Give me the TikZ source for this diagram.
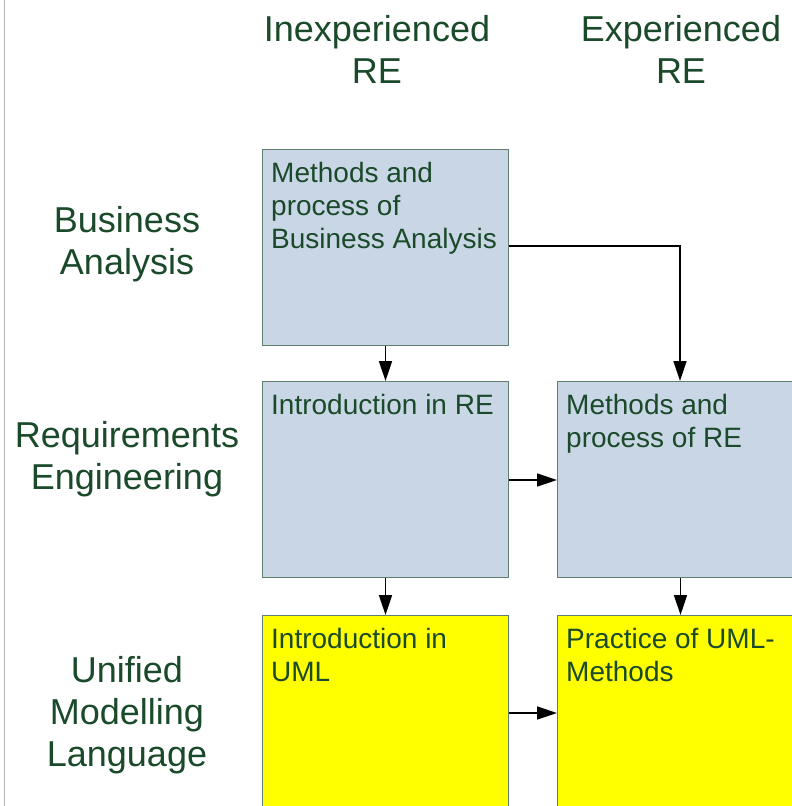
\documentclass[tikz,border=0pt]{standalone}
\usepackage{fontspec}
\setmainfont{Liberation Sans}
\usetikzlibrary{arrows.meta}
\definecolor{txtgreen}{HTML}{1A4A2A}
\definecolor{boxblue}{HTML}{C9D6E5}
\definecolor{boxyellow}{HTML}{FFFF00}
\definecolor{boxline}{HTML}{5F7F6F}
\definecolor{sideline}{HTML}{B4B4B4}
\tikzset{
  bigtext/.style={text=txtgreen, inner sep=0pt, align=center, anchor=base, font=\fontsize{36}{42}\selectfont},
  boxtext/.style={text=txtgreen, inner sep=0pt, align=left, anchor=base west, font=\fontsize{28}{33}\selectfont},
  stepbox/.style={draw=boxline, line width=1pt, minimum width=246pt, minimum height=196pt, inner sep=0pt, anchor=north west},
  bluebox/.style={stepbox, fill=boxblue},
  yellowbox/.style={stepbox, fill=boxyellow},
  conn/.style={draw=black, line width=1.5pt, -{Triangle[length=20pt,width=13pt]}}
}
\begin{document}
\begin{tikzpicture}[x=1pt,y=-1pt]
\useasboundingbox (0,0) rectangle (792,806);
\clip (0,0) rectangle (792,806);
\fill[white] (0,0) rectangle (792,806);
\coordinate (sidetop) at (4.5,0);
\coordinate (sidebot) at (4.5,806);
\draw[sideline, line width=1.2pt] (sidetop) -- (sidebot);

% column headers (anchor = baseline of last line)
\node[bigtext] (hin) at (377,83) {Inexperienced\\RE};
\node[bigtext] (hex) at (681,83) {Experienced\\RE};

% row labels (anchor = baseline of last line)
\node[bigtext] (rba) at (127,274) {Business\\Analysis};
\node[bigtext] (rre) at (127,489) {Requirements\\Engineering};
\node[bigtext] (ruml) at (127,766) {Unified\\Modelling\\Language};

% boxes
\node[bluebox] (ba) at (262,149) {};
\node[bluebox] (intre) at (262,381) {};
\node[bluebox] (methre) at (557,381) {};
\node[yellowbox] (intuml) at (262,615) {};
\node[yellowbox] (pruml) at (557,615) {};

\node[boxtext] (tba) at ([shift={(9,99)}]ba.north west) {Methods and\\process of\\Business Analysis};
\node[boxtext] (tintre) at ([shift={(9,33)}]intre.north west) {Introduction in RE};
\node[boxtext] (tmethre) at ([shift={(9,66)}]methre.north west) {Methods and\\process of RE};
\node[boxtext] (tintuml) at ([shift={(9,66)}]intuml.north west) {Introduction in\\UML};
\node[boxtext] (tpruml) at ([shift={(9,66)}]pruml.north west) {Practice of UML-\\Methods};

% connectors
\coordinate (bend) at (680,246);
\draw[conn] (ba.south) -- (intre.north);
\draw[conn] (ba.east |- bend) -- (bend) -- (bend |- methre.north);
\draw[conn] (intre.east |- 0,480) -- (methre.west |- 0,480);
\draw[conn] (intre.south) -- (intuml.north);
\draw[conn] (methre.south) -- (pruml.north);
\draw[conn] (intuml.east |- 0,713) -- (pruml.west |- 0,713);
\end{tikzpicture}
\end{document}
